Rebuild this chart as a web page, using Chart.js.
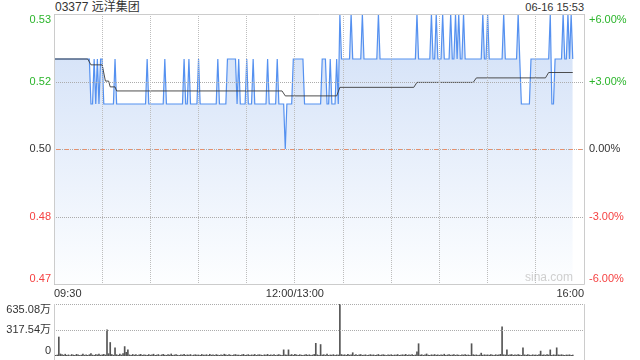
<!DOCTYPE html>
<html lang="zh">
<head>
  <meta charset="UTF-8">
  <title>03377 远洋集团</title>
  <script src="https://cdn.jsdelivr.net/npm/chart.js"></script>
  <style>
    body { margin: 0; width: 640px; height: 360px; background: #fff; position: relative; overflow: hidden;
           font-family: Arial, "Liberation Sans", "Noto Sans CJK SC", sans-serif; }
    canvas { position: absolute; left: 0; }
    #priceChart { top: 0; }
    #volChart { top: 300px; }
    .hd { position: absolute; top: 0; color: #333; line-height: 14px; }
    #title { left: 55px; font-size: 12px; }
    #stamp { right: 56px; font-size: 11px; }
  </style>
</head>
<body>
  <div class="hd" id="title">03377 远洋集团</div>
  <div class="hd" id="stamp">06-16 15:53</div>
  <canvas id="priceChart" width="640" height="300"></canvas>
  <canvas id="volChart" width="640" height="60"></canvas>

  <script>
    // minute prices from 09:30 (index 0) to 15:53, lunch break folded into 12:00/13:00
    const prices = [
      0.52,0.52,0.52,0.52,0.52,0.52,0.52,0.52,0.52,0.52,0.52,0.52,0.52,0.52,0.52,0.52,0.52,0.52,0.52,0.52,0.52,0.52,0.52,0.51,0.51,0.52,0.51,0.52,0.51,0.52,
      0.52,0.51,0.51,0.51,0.51,0.51,0.51,0.51,0.52,0.51,0.51,0.51,0.51,0.51,0.51,0.51,0.51,0.51,0.51,0.51,0.51,0.51,0.51,0.51,0.51,0.51,0.51,0.51,0.52,0.51,
      0.51,0.51,0.51,0.51,0.51,0.51,0.51,0.51,0.51,0.52,0.51,0.51,0.51,0.51,0.51,0.51,0.51,0.51,0.51,0.51,0.51,0.52,0.51,0.51,0.52,0.51,0.51,0.51,0.51,0.51,
      0.52,0.51,0.51,0.51,0.51,0.51,0.51,0.51,0.51,0.51,0.51,0.51,0.52,0.51,0.51,0.51,0.51,0.51,0.52,0.52,0.52,0.52,0.52,0.52,0.51,0.52,0.51,0.51,0.51,0.51,
      0.52,0.51,0.51,0.51,0.52,0.51,0.51,0.51,0.51,0.51,0.51,0.51,0.51,0.52,0.51,0.51,0.51,0.51,0.51,0.52,0.51,0.51,0.51,0.51,0.50,0.51,0.51,0.51,0.51,0.52,
      0.52,0.52,0.52,0.52,0.52,0.52,0.51,0.51,0.51,0.51,0.51,0.51,0.51,0.51,0.51,0.51,0.51,0.52,0.52,0.52,0.51,0.51,0.52,0.51,0.51,0.51,0.52,0.51,0.53,0.52,
      0.52,0.52,0.52,0.52,0.52,0.53,0.52,0.52,0.52,0.52,0.52,0.52,0.53,0.52,0.52,0.52,0.52,0.52,0.52,0.52,0.52,0.52,0.53,0.52,0.52,0.52,0.52,0.52,0.52,0.52,
      0.52,0.52,0.52,0.52,0.52,0.52,0.52,0.52,0.52,0.52,0.52,0.52,0.52,0.52,0.52,0.52,0.53,0.52,0.52,0.52,0.52,0.52,0.52,0.52,0.52,0.53,0.52,0.52,0.53,0.52,
      0.52,0.52,0.53,0.52,0.52,0.52,0.52,0.53,0.52,0.52,0.53,0.52,0.53,0.52,0.52,0.53,0.52,0.52,0.52,0.52,0.52,0.52,0.52,0.52,0.52,0.52,0.52,0.53,0.52,0.52,
      0.53,0.52,0.52,0.52,0.52,0.52,0.52,0.52,0.52,0.52,0.53,0.52,0.52,0.52,0.52,0.52,0.52,0.52,0.52,0.53,0.52,0.51,0.51,0.51,0.51,0.51,0.51,0.52,0.52,0.52,
      0.52,0.52,0.52,0.52,0.52,0.52,0.52,0.52,0.52,0.53,0.51,0.51,0.52,0.52,0.52,0.52,0.52,0.53,0.52,0.52,0.53,0.52,0.53,0.52
    ];

    // average price line, read where it changes
    const avgMinutes = [0, 21, 23, 30, 32, 34, 35, 38, 39, 142, 144, 176, 178, 224, 226, 261, 263, 306, 308, 323];
    const avgValues  = [0.52, 0.52, 0.5187, 0.5187, 0.5151, 0.5151, 0.5138, 0.5138, 0.5129, 0.5129, 0.5118, 0.5118,
                        0.5137, 0.5137, 0.5148, 0.5148, 0.5158, 0.5158, 0.517, 0.517];

    // minute volume, 万股
    const volumes = [
      18,8,12,232,25,16,10,22,8,14,6,18,12,9,20,15,7,11,24,10,13,8,16,30,12,9,18,14,22,10,
      14,20,12,320,28,165,18,10,100,16,9,22,12,30,115,45,75,14,8,19,11,16,7,13,20,9,15,12,8,18,
      10,15,22,8,12,18,6,14,20,11,9,16,12,25,8,13,17,10,7,15,12,20,9,14,11,18,6,12,16,10,
      13,8,19,12,10,16,7,21,11,14,9,17,12,8,15,10,22,13,9,16,11,7,14,18,10,12,8,15,20,9,
      12,17,9,14,10,19,8,13,16,11,7,15,12,20,9,14,10,18,8,12,16,11,9,75,14,10,75,12,18,9,
      20,14,9,16,11,8,13,18,10,15,7,12,19,155,14,9,140,12,16,10,22,8,13,11,17,9,14,12,635.08,18,
      12,15,9,20,11,14,40,10,16,8,13,18,9,12,15,7,11,17,10,14,8,12,19,9,13,16,10,7,14,11,
      16,9,13,11,18,8,12,15,10,20,9,14,11,17,8,13,50,150,12,16,9,14,25,11,8,15,12,18,10,13,
      9,14,11,22,8,13,16,10,12,18,9,15,11,7,14,12,17,10,13,8,150,16,11,14,9,12,35,10,15,12,
      14,10,18,12,9,16,11,13,20,355,15,12,75,10,14,18,9,13,11,16,12,8,100,14,10,17,12,9,15,11,
      13,9,16,60,11,14,10,18,12,75,9,15,11,100,14,10,16,12,8,13,11,15,9,12
    ];

    const prevClose = 0.50;
    const sessionMinutes = 330;
    const xGridMinutes = [0, 30, 60, 90, 120, 150, 180, 210, 240, 270, 300, 330];
    const xTickMinutes = [0, 150, 330];
    const xTickLabels = ['09:30', '12:00/13:00', '16:00'];
    const yTicks = [0.53, 0.515, 0.50, 0.485, 0.47];
    const leftTickLabels = ['0.53', '0.52', '0.50', '0.48', '0.47'];
    const rightTickLabels = ['+6.00%', '+3.00%', '0.00%', '-3.00%', '-6.00%'];
    const volTicks = [635.08, 317.54, 0];
    const volTickLabels = ['635.08万', '317.54万', '0'];

    const FONT = 'Arial, "Liberation Sans", "Noto Sans CJK SC", sans-serif';
    const UP = '#2bb52b', DOWN = '#f54242', FLAT = '#333';
    const GRID = '#bdbdbd';
    Chart.defaults.font.family = FONT;

    // dotted horizontal lines at the y ticks, on top of the fill
    const hGrid = {
      id: 'hGrid',
      afterDatasetsDraw(chart, args, opts) {
        const { ctx, chartArea: a } = chart;
        const y = chart.scales.y;
        ctx.save();
        ctx.strokeStyle = '#acacac';
        ctx.lineWidth = 1;
        ctx.setLineDash([1, 1]);
        opts.values.forEach(v => {
          const py = Math.round(y.getPixelForValue(v)) + 0.5;
          ctx.beginPath();
          ctx.moveTo(a.left, py);
          ctx.lineTo(a.right, py);
          ctx.stroke();
        });
        ctx.restore();
      }
    };

    // draws the tick texts on both sides, first one hangs below its line, last one sits above
    const sideLabels = {
      id: 'sideLabels',
      afterDraw(chart, args, opts) {
        const { ctx, chartArea } = chart;
        const y = chart.scales.y;
        ctx.save();
        ctx.font = '11px ' + FONT;
        opts.values.forEach((v, i) => {
          const py = y.getPixelForValue(v);
          ctx.textBaseline = i === 0 ? 'top' : (i === opts.values.length - 1 ? 'bottom' : 'middle');
          ctx.fillStyle = opts.colors[i];
          if (opts.left) { ctx.textAlign = 'right'; ctx.fillText(opts.left[i], chartArea.left - 3, py); }
          if (opts.right) { ctx.textAlign = 'left'; ctx.fillText(opts.right[i], chartArea.right + 5, py); }
        });
        ctx.restore();
      }
    };

    const frame = {
      id: 'frame',
      afterDraw(chart, args, opts) {
        const { ctx, chartArea: a } = chart;
        ctx.save();
        ctx.strokeStyle = '#cccccc';
        ctx.lineWidth = 1;
        ctx.beginPath();
        if (opts.box) {
          ctx.rect(Math.round(a.left) + 0.5, Math.round(a.top) + 0.5, Math.round(a.right - a.left), Math.round(a.bottom - a.top));
        } else {
          ctx.moveTo(Math.round(a.left) + 0.5, a.top); ctx.lineTo(Math.round(a.left) + 0.5, chart.height);
          ctx.moveTo(Math.round(a.right) + 0.5, a.top); ctx.lineTo(Math.round(a.right) + 0.5, chart.height);
        }
        ctx.stroke();
        ctx.restore();
      }
    };

    // previous close line and the watermark, laid over the filled area
    const baseLine = {
      id: 'baseLine',
      afterDatasetsDraw(chart) {
        const { ctx, chartArea: a } = chart;
        const py = Math.round(chart.scales.y.getPixelForValue(prevClose)) + 0.5;
        ctx.save();
        ctx.strokeStyle = '#e8906c';
        ctx.setLineDash([4, 5]);
        ctx.beginPath();
        ctx.moveTo(a.left + 2, py);
        ctx.lineTo(a.right, py);
        ctx.stroke();
        ctx.setLineDash([]);
        ctx.font = '12px ' + FONT;
        ctx.fillStyle = '#cfcfcf';
        ctx.textAlign = 'right';
        ctx.textBaseline = 'bottom';
        ctx.fillText('sina.com', a.right - 11, a.bottom);
        ctx.restore();
      }
    };

    new Chart(document.getElementById('priceChart'), {
      type: 'line',
      data: {
        datasets: [
          {
            label: '均价',
            data: avgMinutes.map((m, i) => ({ x: m, y: avgValues[i] })),
            borderColor: 'rgba(60,60,60,0.9)',
            borderWidth: 1,
            pointRadius: 0,
            fill: false
          },
          {
            label: '价格',
            data: prices.map((p, i) => ({ x: i, y: p })),
            borderColor: '#5591f0',
            borderWidth: 1.2,
            pointRadius: 0,
            fill: 'start',
            backgroundColor: (c) => {
              const a = c.chart.chartArea;
              if (!a) return 'rgba(0,0,0,0)';
              const g = c.chart.ctx.createLinearGradient(0, a.top, 0, a.bottom);
              g.addColorStop(0, '#d0dff7');
              g.addColorStop(1, '#fdfeff');
              return g;
            }
          }
        ]
      },
      options: {
        responsive: false,
        animation: false,
        layout: { padding: { top: 14, right: 56, left: 0, bottom: 0 } },
        plugins: {
          legend: { display: false },
          tooltip: { enabled: false },
          hGrid: { values: yTicks },
          sideLabels: {
            values: yTicks, left: leftTickLabels, right: rightTickLabels,
            colors: [UP, UP, FLAT, DOWN, DOWN]
          },
          frame: { box: true }
        },
        scales: {
          x: {
            type: 'linear', min: 0, max: sessionMinutes,
            afterBuildTicks: (s) => { s.ticks = xGridMinutes.map(v => ({ value: v })); },
            afterFit: (s) => { s.height = 16; },
            ticks: {
              autoSkip: false, maxRotation: 0, align: 'inner', padding: 3,
              color: '#333', font: { size: 11 },
              callback: (v) => { const k = xTickMinutes.indexOf(v); return k >= 0 ? xTickLabels[k] : ''; }
            },
            grid: { color: GRID, drawTicks: false, z: 1 },
            border: { display: false, dash: [1, 1] }
          },
          y: {
            min: 0.47, max: 0.53,
            afterFit: (s) => { s.width = 54; },
            ticks: { display: false },
            grid: { display: false },
            border: { display: false }
          }
        }
      },
      plugins: [hGrid, baseLine, sideLabels, frame]
    });

    new Chart(document.getElementById('volChart'), {
      type: 'bar',
      data: {
        datasets: [{
          label: '成交量',
          data: volumes.map((v, i) => ({ x: i, y: v })),
          backgroundColor: '#555',
          barThickness: 1
        }]
      },
      options: {
        responsive: false,
        animation: false,
        layout: { padding: { top: 4, right: 56, left: 0, bottom: 4 } },
        plugins: {
          legend: { display: false },
          tooltip: { enabled: false },
          hGrid: { values: volTicks.slice(0, 2) },
          sideLabels: { values: volTicks, left: volTickLabels, colors: [FLAT, FLAT, FLAT] },
          frame: { box: false }
        },
        scales: {
          x: { type: 'linear', min: 0, max: sessionMinutes, offset: false, display: false },
          y: {
            min: 0, max: 635.08,
            afterFit: (s) => { s.width = 54; },
            ticks: { display: false },
            grid: { display: false },
            border: { display: false }
          }
        }
      },
      plugins: [hGrid, sideLabels, frame]
    });
  </script>
</body>
</html>
